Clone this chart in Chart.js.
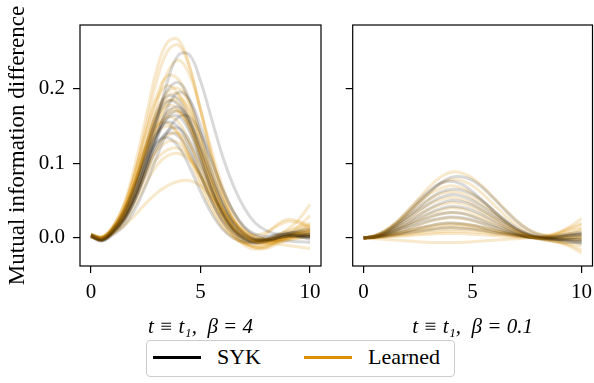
<!DOCTYPE html>
<html>
<head>
<meta charset="utf-8">
<script src="https://cdn.jsdelivr.net/npm/chart.js@4.4.0/dist/chart.umd.min.js"></script>
<style>
  body { margin: 0; background: #fff; }
  #wrap { position: relative; width: 594px; height: 383px; overflow: hidden; }
  canvas { position: absolute; top: 0; }
  #left { left: 0; }
  #right { left: 330px; }
  #legend {
    position: absolute; left: 146px; top: 340px; width: 307px; height: 35px;
    border: 1px solid #cccccc; border-radius: 4px; background: #fff;
    font-family: "Liberation Serif", serif; font-size: 22px; color: #000;
  }
  #legend .line { position: absolute; top: 15px; width: 48px; height: 3px; }
  #legend .lbl { position: absolute; top: 3px; line-height: 26px; }
</style>
</head>
<body>
<div id="wrap">
  <canvas id="left" width="330" height="383"></canvas>
  <canvas id="right" width="264" height="383"></canvas>
  <div id="legend">
    <div class="line" style="left:6px;background:#000;"></div>
    <div class="lbl" style="left:70px;">SYK</div>
    <div class="line" style="left:157px;background:#DE8F05;"></div>
    <div class="lbl" style="left:221px;">Learned</div>
  </div>
</div>
<script>
// time grid shared by every curve
const times = [0, 0.5, 1, 1.5, 2, 2.5, 3, 3.5, 4, 4.5, 5, 5.5, 6, 6.5, 7, 7.5, 8, 8.5, 9, 9.5, 10];
const xTicks = [0, 5, 10];
const yTicks = [0, 0.1, 0.2];

// beta = 4, SYK curves
const sykBeta4 = [
  [.003, -.002, .008, .025, .055, .100, .155, .210, .245, .245, .210, .160, .110, .070, .040, .020, .010, .005, .004, .003, .002],
  [.004, -.003, .010, .030, .065, .110, .160, .198, .208, .185, .140, .090, .050, .022, .006, -.002, -.003, .000, .003, .002, .001],
  [.002, -.004, .006, .022, .050, .090, .135, .175, .195, .185, .150, .105, .065, .035, .015, .005, .002, .005, .008, .006, .004],
  [.003, -.002, .012, .035, .070, .115, .160, .183, .178, .150, .108, .066, .032, .010, -.002, -.006, -.004, .000, .002, .003, .002],
  [.005, .000, .010, .028, .058, .098, .140, .168, .175, .158, .122, .082, .045, .018, .004, -.003, -.002, .002, .006, .010, .012],
  [.002, -.003, .008, .027, .057, .096, .135, .160, .163, .142, .105, .066, .034, .012, .000, -.004, -.002, .003, .005, .002, -.002],
  [.004, .000, .012, .034, .068, .107, .140, .155, .148, .122, .086, .050, .022, .005, -.004, -.005, -.002, .001, .003, .004, .005],
  [.003, -.002, .008, .024, .050, .085, .120, .143, .147, .130, .098, .062, .032, .012, .002, -.002, .000, .004, .006, .004, .002],
  [.003, -.001, .012, .035, .068, .103, .128, .134, .122, .095, .062, .033, .012, .000, -.006, -.007, -.004, .000, .002, .003, .004],
  [.002, -.004, .004, .016, .038, .070, .108, .142, .162, .162, .140, .104, .066, .035, .014, .003, -.002, -.004, -.004, -.005, -.006],
  [.004, -.001, .012, .036, .074, .122, .168, .190, .185, .158, .115, .072, .036, .012, -.001, -.006, -.005, -.001, .003, .006, .008],
  [.002, -.003, .007, .024, .052, .090, .132, .162, .170, .155, .120, .080, .045, .020, .005, -.002, -.002, .002, .006, .008, .006],
  [.003, -.002, .010, .030, .060, .095, .125, .140, .136, .115, .083, .050, .024, .008, -.001, -.004, -.003, .000, .002, .001, .000]
];

// beta = 4, learned curves
const learnedBeta4 = [
  [.004, .001, .015, .045, .097, .160, .225, .262, .265, .230, .170, .110, .060, .025, .005, -.005, -.006, -.004, .000, .005, .010],
  [.002, -.003, .010, .036, .085, .148, .210, .250, .258, .228, .172, .112, .062, .026, .006, -.004, -.002, .004, .010, .015, .020],
  [.003, -.002, .009, .030, .070, .125, .180, .222, .238, .218, .172, .118, .070, .035, .012, .000, -.002, .000, .004, .006, .004],
  [.005, .001, .013, .040, .085, .140, .190, .217, .212, .180, .130, .080, .040, .012, -.005, -.013, -.014, -.008, -.002, .004, .006],
  [.004, .000, .014, .042, .088, .140, .185, .204, .192, .158, .110, .064, .028, .004, -.010, -.015, -.012, -.004, .006, .016, .030],
  [.003, -.002, .010, .033, .072, .120, .165, .190, .192, .168, .125, .080, .042, .016, .002, -.004, -.004, .002, .012, .025, .045],
  [.002, -.003, .008, .028, .062, .108, .152, .180, .187, .170, .132, .090, .052, .024, .008, .004, .008, .016, .022, .020, .012],
  [.004, .000, .012, .036, .074, .120, .158, .177, .172, .145, .105, .064, .030, .008, -.006, -.012, -.012, -.006, .002, .008, .010],
  [.003, -.001, .010, .030, .066, .110, .150, .170, .170, .148, .112, .072, .038, .014, .000, -.006, -.006, -.003, .000, .003, .005],
  [.004, .001, .013, .037, .074, .116, .148, .162, .155, .128, .090, .052, .022, .003, -.008, -.012, -.010, -.004, .003, .010, .016],
  [.005, .002, .016, .043, .083, .124, .150, .154, .138, .106, .070, .038, .014, .000, -.006, -.004, .005, .018, .025, .022, .015],
  [.002, -.002, .008, .025, .052, .088, .120, .137, .140, .125, .096, .064, .035, .014, .002, -.004, -.006, -.008, -.010, -.012, -.014],
  [.003, .000, .009, .026, .052, .082, .106, .118, .120, .107, .083, .055, .030, .012, .002, -.003, -.004, -.002, .002, .006, .010],
  [.002, -.002, .006, .020, .043, .072, .097, .110, .113, .104, .084, .060, .036, .017, .005, -.002, -.004, -.003, .000, .003, .006],
  [.003, .000, .006, .016, .030, .046, .060, .070, .076, .077, .070, .055, .038, .022, .010, .002, -.002, -.003, -.002, .000, .002],
  [.004, .001, .011, .034, .074, .124, .170, .196, .200, .180, .140, .094, .054, .024, .006, -.002, -.003, .000, .004, .008, .010],
  [.003, -.001, .011, .034, .072, .120, .163, .184, .180, .155, .114, .072, .037, .013, .000, -.005, -.004, .000, .006, .012, .018],
  [.002, -.002, .008, .026, .057, .098, .140, .165, .168, .150, .116, .078, .044, .020, .006, .000, -.002, -.002, .000, .002, .004],
  [.004, .001, .013, .038, .074, .112, .140, .150, .140, .112, .077, .044, .018, .002, -.007, -.010, -.008, -.003, .003, .008, .012],
  [.003, .000, .010, .029, .058, .090, .116, .129, .127, .110, .083, .053, .027, .009, -.002, -.007, -.008, -.006, -.003, .000, .002]
];

// beta = 0.1, SYK curves
const sykBeta01 = [
  [0, .002, .008, .018, .031, .046, .060, .073, .081, .082, .077, .066, .052, .037, .023, .012, .005, .002, .002, .004, .005],
  [0, .003, .010, .021, .035, .050, .063, .073, .076, .072, .062, .049, .035, .022, .012, .005, .001, -.001, -.001, .000, .001],
  [0, .002, .008, .017, .028, .040, .052, .061, .065, .064, .058, .048, .036, .024, .014, .006, .002, .000, -.002, -.004, -.005],
  [0, .002, .007, .015, .025, .036, .046, .054, .058, .056, .050, .041, .031, .021, .012, .006, .002, .001, .002, .004, .006],
  [0, .002, .006, .013, .021, .030, .039, .046, .050, .049, .044, .036, .027, .018, .010, .004, .000, -.003, -.005, -.006, -.006],
  [0, .001, .005, .011, .018, .026, .033, .039, .042, .041, .037, .030, .022, .014, .007, .002, -.001, -.002, -.002, -.002, -.002],
  [0, .002, .005, .010, .016, .022, .028, .032, .034, .033, .029, .023, .017, .011, .006, .002, .000, .000, .002, .003, .004],
  [0, .001, .004, .008, .013, .018, .023, .026, .028, .027, .024, .019, .014, .009, .005, .002, .000, -.001, -.003, -.005, -.008],
  [0, .001, .003, .006, .009, .013, .016, .019, .020, .019, .017, .014, .010, .007, .004, .002, .001, .002, .004, .006, .008],
  [0, .001, .002, .004, .007, .009, .011, .013, .014, .013, .012, .010, .007, .005, .003, .001, .000, -.001, -.002, -.002, -.003]
];

// beta = 0.1, learned curves
const learnedBeta01 = [
  [0, .003, .010, .021, .036, .052, .068, .081, .088, .087, .080, .068, .053, .038, .024, .013, .006, .004, .008, .014, .020],
  [0, .002, .009, .019, .032, .047, .061, .072, .078, .077, .070, .058, .044, .030, .018, .009, .004, .003, .006, .010, .013],
  [0, .003, .010, .020, .033, .046, .058, .066, .070, .067, .059, .048, .035, .023, .012, .004, -.001, -.004, -.006, -.008, -.010],
  [0, .002, .008, .017, .028, .040, .051, .059, .062, .060, .053, .043, .032, .021, .012, .005, .001, .000, .002, .006, .012],
  [0, .002, .007, .015, .025, .035, .045, .051, .054, .052, .046, .037, .027, .018, .010, .004, .000, -.003, -.006, -.010, -.016],
  [0, .002, .006, .013, .021, .030, .038, .044, .047, .046, .041, .033, .025, .016, .009, .004, .001, .002, .006, .012, .018],
  [0, .002, .006, .011, .018, .025, .032, .037, .040, .039, .034, .028, .021, .014, .008, .003, .000, -.002, -.003, -.004, -.004],
  [0, .001, .005, .010, .016, .022, .027, .032, .034, .033, .029, .024, .018, .012, .007, .003, .001, .000, .001, .002, .003],
  [0, .001, .004, .008, .012, .017, .022, .025, .027, .026, .023, .019, .014, .009, .005, .002, .000, -.002, -.006, -.012, -.020],
  [0, .001, .003, .006, .010, .013, .016, .019, .020, .019, .017, .014, .011, .007, .004, .002, .001, .003, .008, .016, .026],
  [0, .001, .003, .005, .007, .010, .012, .014, .015, .015, .013, .011, .008, .006, .004, .002, .001, .000, .000, .000, .001],
  [0, .001, .002, .004, .006, .008, .010, .011, .012, .012, .011, .009, .007, .005, .003, .001, .000, -.001, -.002, -.002, -.002],
  [0, .001, .002, .003, .004, .006, .007, .008, .009, .009, .008, .007, .005, .004, .002, .001, .000, .000, -.001, -.001, -.001],
  [0, -.001, -.002, -.003, -.004, -.005, -.006, -.006, -.006, -.006, -.005, -.004, -.003, -.002, -.001, .000, .000, .002, .004, .006, .008],
  [0, .001, .003, .006, .009, .012, .015, .017, .018, .018, .016, .013, .010, .007, .004, .002, .001, .001, .002, .003, .005],
  [0, .000, .001, .002, .003, .004, .005, .006, .006, .006, .005, .004, .003, .002, .001, .001, .000, .000, .000, .001, .002]
];

const sykColor = 'rgba(0, 0, 0, 0.15)';
const learnedColor = 'rgba(222, 143, 5, 0.2)';
const serif = 'Liberation Serif';

// draws the matplotlib style box round the plot area
const frame = {
  id: 'frame',
  afterDatasetsDraw(chart) {
    const { ctx, chartArea: a } = chart;
    ctx.save();
    ctx.strokeStyle = '#000';
    ctx.lineWidth = 1.2;
    ctx.strokeRect(a.left, a.top, a.right - a.left, a.bottom - a.top);
    ctx.restore();
  }
};

const toPoints = function (vals) {
  return vals.map((v, i) => ({ x: times[i], y: v }));
};

const makeChart = function (id, sykCurves, learnedCurves, xTitle, yAxisWidth, padRight, yLabels) {
  const datasets = [];
  const n = Math.max(sykCurves.length, learnedCurves.length);
  for (let i = 0; i < n; i++) {
    if (sykCurves[i]) {
      datasets.push({ label: 'SYK', data: toPoints(sykCurves[i]), borderColor: sykColor });
    }
    if (learnedCurves[i]) {
      datasets.push({ label: 'Learned', data: toPoints(learnedCurves[i]), borderColor: learnedColor });
    }
  }
  const ctx = document.getElementById(id).getContext('2d');
  return new Chart(ctx, {
    type: 'line',
    data: { datasets: datasets },
    options: {
      responsive: false,
      animation: false,
      events: [],
      layout: { padding: { left: 0, top: 25, right: padRight, bottom: 0 } },
      elements: {
        point: { radius: 0 },
        line: { borderWidth: 3, tension: 0.4, fill: false }
      },
      plugins: { legend: { display: false }, tooltip: { enabled: false } },
      scales: {
        x: {
          type: 'linear',
          min: -0.5,
          max: 10.5,
          afterBuildTicks: (s) => { s.ticks = xTicks.map(v => ({ value: v })); },
          afterFit: (s) => { s.height = 117; s.paddingLeft = 0; s.paddingRight = 0; },
          grid: { drawOnChartArea: false, drawTicks: true, tickLength: 7, color: '#000', lineWidth: 1.2 },
          border: { display: false },
          ticks: { color: '#000', padding: 7, maxRotation: 0, font: { family: serif, size: 21 }, callback: (v) => String(v) },
          title: { display: true, text: xTitle, color: '#000', padding: { top: 0, bottom: 43 }, font: { family: serif, size: 21, style: 'italic' } }
        },
        y: {
          min: -0.0375,
          max: 0.285,
          afterBuildTicks: (s) => { s.ticks = yTicks.map(v => ({ value: v })); },
          afterFit: (s) => { s.width = yAxisWidth; s.paddingTop = 0; s.paddingBottom = 0; },
          grid: { drawOnChartArea: false, drawTicks: true, tickLength: 7, color: '#000', lineWidth: 1.2 },
          border: { display: false },
          ticks: {
            display: yLabels, color: '#000', padding: 8,
            font: { family: serif, size: 21 },
            callback: (v) => v.toFixed(1)
          },
          title: {
            display: yLabels, text: 'Mutual information difference', color: '#000',
            padding: { top: 4, bottom: 0 }, font: { family: serif, size: 23 }
          }
        }
      }
    },
    plugins: [frame]
  });
};

makeChart('left', sykBeta4, learnedBeta4, 't \u2261 t\u2081,  \u03B2 = 4', 80, 9, true);
makeChart('right', sykBeta01, learnedBeta01, 't \u2261 t\u2081,  \u03B2 = 0.1', 22.7, 1.5, false);
</script>
</body>
</html>
